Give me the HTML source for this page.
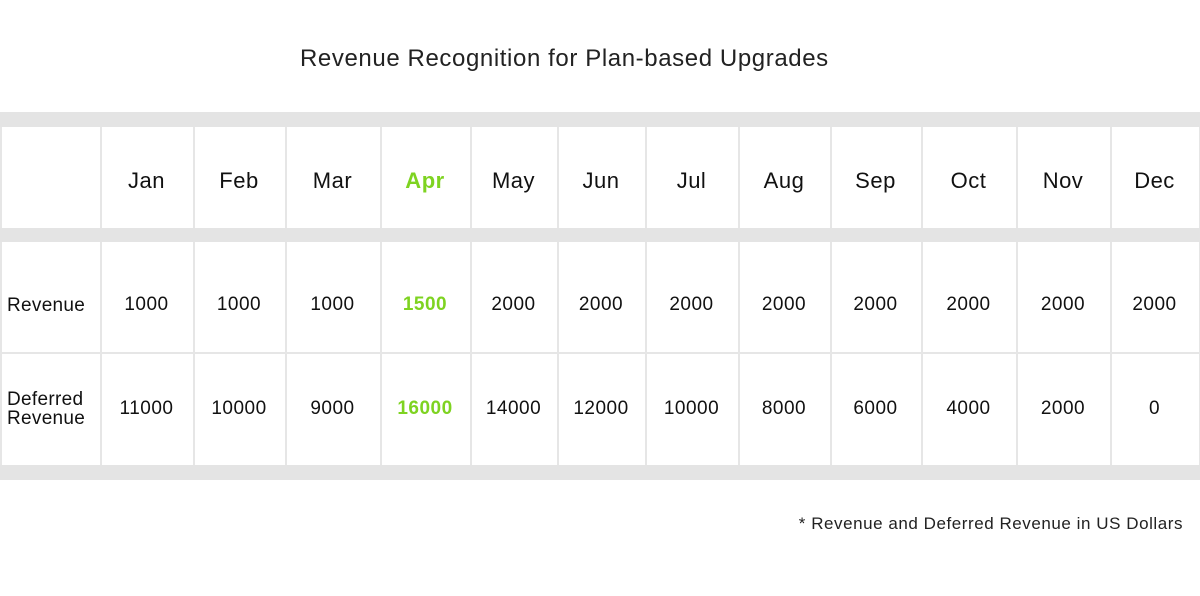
<!DOCTYPE html>
<html><head><meta charset="utf-8"><style>
body{margin:0;width:1200px;height:596px;background:#fff;position:relative;overflow:hidden;font-family:"Liberation Sans",sans-serif;color:#111}
.a{position:absolute}
.band{position:absolute;left:0;width:1200px;background:#e4e4e4}
.vl{position:absolute;width:2px;background:#e6e6e6}
.hl{position:absolute;left:0;width:1200px;height:2px;background:#e6e6e6}
.c{position:absolute;text-align:center;transform:translateX(-50%);white-space:nowrap;letter-spacing:0.5px}
.g{color:#7ed321;font-weight:bold}
</style></head><body>
<div class="a" style="left:300px;top:45px;font-size:24px;letter-spacing:0.6px;color:#222">Revenue Recognition for Plan-based Upgrades</div>
<div class="band" style="top:112px;height:15px"></div>
<div class="band" style="top:228px;height:14px"></div>
<div class="hl" style="top:352px"></div>
<div class="band" style="top:465px;height:15px"></div>
<div class="a" style="left:7px;top:295px;font-size:19px;letter-spacing:0.3px">Revenue</div>
<div class="a" style="left:7px;top:390px;font-size:19px;line-height:19px;letter-spacing:0.3px">Deferred<br>Revenue</div>
<div class="a" style="right:17px;top:514px;font-size:17px;letter-spacing:0.55px;color:#222">* Revenue and Deferred Revenue in US Dollars</div>
<div id="t"></div>
<script>
const months=["Jan","Feb","Mar","Apr","May","Jun","Jul","Aug","Sep","Oct","Nov","Dec"];
const revenue=[1000,1000,1000,1500,2000,2000,2000,2000,2000,2000,2000,2000];
const deferred=[11000,10000,9000,16000,14000,12000,10000,8000,6000,4000,2000,0];
const highlight="Apr";
const edges=[0,100,193,285,380,470,557,645,738,830,921,1016,1110,1199];
const t=document.getElementById('t');
edges.forEach((x,i)=>{
  [[127,101],[242,223]].forEach(([y,h])=>{
    const v=document.createElement('div');v.className='vl';
    
    
    v.style.left=x+'px';v.style.top=y+'px';v.style.height=h+'px';t.appendChild(v);
  });
});
months.forEach((m,i)=>{
  const cx=(edges[i+1]+edges[i+2])/2;
  const hl=m===highlight?' g':'';
  const h=document.createElement('div');h.className='c'+hl;
  
  
  h.style.left=cx+'px';h.style.top='168px';h.style.fontSize='22px';h.textContent=m;t.appendChild(h);
  const r=document.createElement('div');r.className='c'+hl;
  
  
  r.style.left=cx+'px';r.style.top='294px';r.style.fontSize='19px';r.textContent=revenue[i];t.appendChild(r);
  const d=document.createElement('div');d.className='c'+hl;
  
  
  d.style.left=cx+'px';d.style.top='398px';d.style.fontSize='19px';d.textContent=deferred[i];t.appendChild(d);
});
</script>
</body></html>
